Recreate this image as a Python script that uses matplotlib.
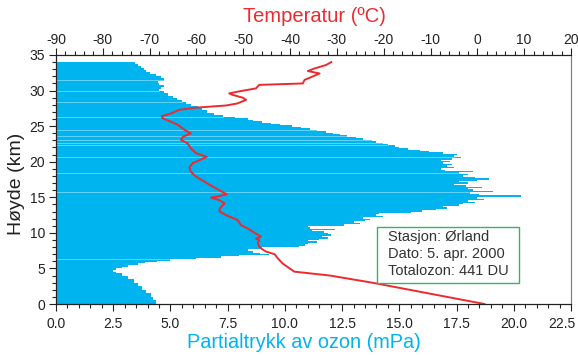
import numpy as np
import matplotlib
matplotlib.use('Agg')
import matplotlib.pyplot as plt
from matplotlib.patches import Rectangle
from matplotlib.ticker import MultipleLocator, FormatStrFormatter
from matplotlib.transforms import ScaledTranslation

plt.rcParams['font.family'] = ['Liberation Sans', 'DejaVu Sans']
plt.rcParams['axes.unicode_minus'] = False

# ozone partial pressure profile (mPa) vs altitude (km), step-wise
alt_km = [0.0, 0.5, 1.0, 1.5, 2.0, 2.5, 3.0, 3.5, 4.0, 4.3, 4.5, 4.8, 5.0, 5.2, 5.5, 5.7, 5.9,
          6.1, 6.3, 6.5, 6.7, 6.85, 7.0, 7.2, 7.5, 7.8, 8.0, 8.2, 8.4, 8.6, 8.8, 9.0, 9.2,
          9.4, 9.6, 9.8, 10.0, 10.2, 10.4, 10.6, 10.8, 11.0, 11.2, 11.4, 11.6, 11.8, 12.0,
          12.2, 12.4, 12.6, 12.8, 13.0, 13.2, 13.4, 13.6, 13.8, 14.0, 14.2, 14.4, 14.6,
          14.8, 15.0, 15.1, 15.3, 15.5, 15.7, 15.9, 16.1, 16.3, 16.5, 16.7, 16.9, 17.1,
          17.3, 17.5, 17.7, 17.9, 18.1, 18.3, 18.5, 18.7, 18.9, 19.1, 19.3, 19.5, 19.7,
          19.9, 20.1, 20.3, 20.5, 20.7, 20.9, 21.1, 21.3, 21.5, 21.7, 21.9, 22.1, 22.3,
          22.5, 22.7, 22.9, 23.1, 23.3, 23.5, 23.7, 23.9, 24.1, 24.3, 24.5, 24.7, 24.9,
          25.1, 25.3, 25.5, 25.7, 25.9, 26.1, 26.3, 26.6, 26.9, 27.2, 27.5, 27.8, 28.1,
          28.4, 28.7, 29.0, 29.3, 29.6, 29.9, 30.2, 30.5, 30.8, 31.1, 31.4, 31.7, 32.0,
          32.3, 32.6, 32.9, 33.2, 33.5, 33.8, 34.0]
ozone_mpa = [4.35, 4.25, 4.15, 3.95, 3.75, 3.6, 3.4, 3.15, 2.9, 2.6, 2.48, 2.62, 2.9, 3.15, 3.6, 3.9, 4.4,
             5.0, 6.1, 7.2, 8.0, 9.3, 8.9, 8.6, 8.4, 9.0, 10.6, 10.9, 11.0, 11.4, 11.0, 11.5, 11.9,
             11.6, 12.0, 11.9, 11.7, 11.2, 12.2, 11.1, 11.0, 12.6, 13.3, 13.0, 13.5, 13.7, 13.4,
             14.3, 14.0, 14.1, 15.5, 16.0, 16.6, 17.1, 16.9, 17.6, 17.8, 18.3, 18.0, 18.7,
             18.4, 19.0, 20.3, 18.5, 18.1, 19.1, 18.2, 18.0, 18.6, 17.9, 17.4, 18.0, 17.6,
             18.4, 18.9, 18.3, 17.8, 18.0, 17.6, 18.2, 17.0, 16.8, 17.4, 17.1, 17.3, 16.9,
             17.2, 16.8, 17.3, 17.7, 17.4, 17.5, 16.9, 16.3, 15.9, 15.4, 15.0, 14.8, 14.5,
             14.3, 14.0, 13.8, 13.4, 13.1, 12.7, 12.4, 12.1, 11.8, 11.4, 11.1, 10.7, 10.3,
             9.8, 9.4, 9.0, 8.6, 8.4, 7.8, 7.3, 6.9, 6.6, 6.4, 6.2, 5.9, 5.7,
             5.5, 5.3, 5.1, 4.9, 4.7, 4.5, 4.6, 4.7, 4.5, 4.45, 4.7, 4.6, 4.35,
             4.1, 3.95, 3.85, 3.7, 3.6, 3.45, 3.35]
# faint seams visible in the ozone bars
seam_km = [6.3, 15.8, 18.4, 20.7, 22.4, 22.6, 23.0, 23.6, 24.4, 26.3, 28.4, 29.9, 31.5]

# temperature profile (deg C)
temp_alt_km = [0.0, 1.0, 2.0, 3.0, 4.0, 4.55, 5.0, 5.7, 6.4, 7.0, 7.35, 7.73, 8.06, 8.5, 9.0,
               9.2, 9.47, 10.17, 10.6, 11.1, 11.8, 12.5, 13.0, 13.45, 14.15, 14.6, 14.95,
               15.4, 16.0, 16.5, 17.2, 17.9, 18.6, 19.2, 19.8, 20.2, 20.7, 21.2, 21.9, 22.6,
               23.05, 23.5, 24.0, 24.5, 25.2, 25.6, 26.1, 26.4, 26.8, 27.3, 27.6, 27.9, 28.2,
               28.7, 29.0, 29.4, 29.6, 29.85, 30.3, 30.8, 31.0, 31.5, 32.2, 32.4, 32.75, 33.1,
               33.6, 34.0]
temp_c = [1.5, -6.5, -14.5, -22.5, -31.5, -39.1, -40.1, -41.6, -42.6, -43.3, -45.1, -46.0, -46.6,
          -46.9, -46.6, -47.3, -46.2, -48.0, -49.0, -50.5, -51.2, -53.7, -55.1, -55.0, -54.0,
          -55.1, -56.9, -53.5, -55.1, -56.5, -58.3, -60.1, -61.2, -61.5, -60.8, -59.4, -57.8,
          -60.1, -61.2, -61.9, -63.3, -62.9, -61.2, -62.6, -64.0, -65.4, -67.2, -67.4, -65.4,
          -63.6, -60.1, -53.7, -51.2, -49.4, -50.1, -52.3, -53.0, -51.2, -47.3, -46.6, -37.3,
          -36.9, -34.4, -33.7, -36.2, -34.8, -32.3, -31.2]

blue = '#00b4ef'
red = '#ec2a2f'
ink = '#222222'

fig = plt.figure(figsize=(5.78, 3.55), dpi=100)
ax = fig.add_axes([56/578, 1 - 304/355, 515/578, 249/355])

alt = np.array(alt_km)
oz = np.array(ozone_mpa)
ax.fill_betweenx(alt, 0, oz, step='post', color=blue, lw=0)
for s in seam_km:
    v = oz[np.searchsorted(alt, s, side='right') - 1]
    ax.plot([0, v], [s, s], color='white', lw=0.6, alpha=0.45)

ax.set_xlim(0, 22.5)
ax.set_ylim(0, 35)
ax.xaxis.set_major_locator(MultipleLocator(2.5))
ax.xaxis.set_minor_locator(MultipleLocator(0.5))
ax.xaxis.set_major_formatter(FormatStrFormatter('%.1f'))
ax.yaxis.set_major_locator(MultipleLocator(5))
ax.yaxis.set_minor_locator(MultipleLocator(1))
ax.tick_params(which='major', length=5, width=0.8, labelsize=10, colors=ink)
ax.tick_params(which='minor', length=3, width=0.8, colors=ink)
ax.tick_params(axis='x', pad=4)
ax.tick_params(axis='y', pad=3)

ax2 = ax.twiny()
ax2.plot(temp_c, temp_alt_km, color=red, lw=1.4)
ax2.set_xlim(-90, 20)
ax2.xaxis.set_major_locator(MultipleLocator(10))
ax2.xaxis.set_minor_locator(MultipleLocator(2))
ax2.tick_params(which='major', length=5, width=0.8, labelsize=10, colors=ink, pad=1)
ax2.tick_params(which='minor', length=3, width=0.8, colors=ink)

for a in (ax, ax2):
    a.spines['right'].set_color('#808080')
    for sp in ('left', 'bottom', 'top'):
        a.spines[sp].set_color(ink)
        a.spines[sp].set_linewidth(0.8)

# the last bottom label sits left of its tick so it fits inside the picture
fig.canvas.draw()
last = ax.xaxis.get_majorticklabels()[-1]
for lab in ax.xaxis.get_majorticklabels():
    if lab.get_text() == '22.5':
        last = lab
last.set_transform(last.get_transform() + ScaledTranslation(-9/100, 0, fig.dpi_scale_trans))

fig.text(314/578, 1 - 17/355, 'Temperatur (ºC)', color=red, fontsize=14.5,
         ha='center', va='center')
fig.text(304/578, 1 - 343/355, 'Partialtrykk av ozon (mPa)', color=blue, fontsize=14.3,
         ha='center', va='center')
fig.text(17/578, 1 - 184/355, 'Høyde (km)', color=ink, fontsize=14,
         ha='center', va='center', rotation=90)

fig.patches.append(Rectangle((377/578, 1 - 283/355), 142/578, 56/355,
                             transform=fig.transFigure, fill=True, facecolor='white',
                             edgecolor='#33b563', lw=1, zorder=5))
for i, line in enumerate(['Stasjon: Ørland', 'Dato: 5. apr. 2000', 'Totalozon: 441 DU']):
    fig.text(388/578, 1 - (237 + 17 * i)/355, line, color='#333333', fontsize=10.5,
             ha='left', va='center', zorder=6)

fig.savefig('out.png', dpi=100)
